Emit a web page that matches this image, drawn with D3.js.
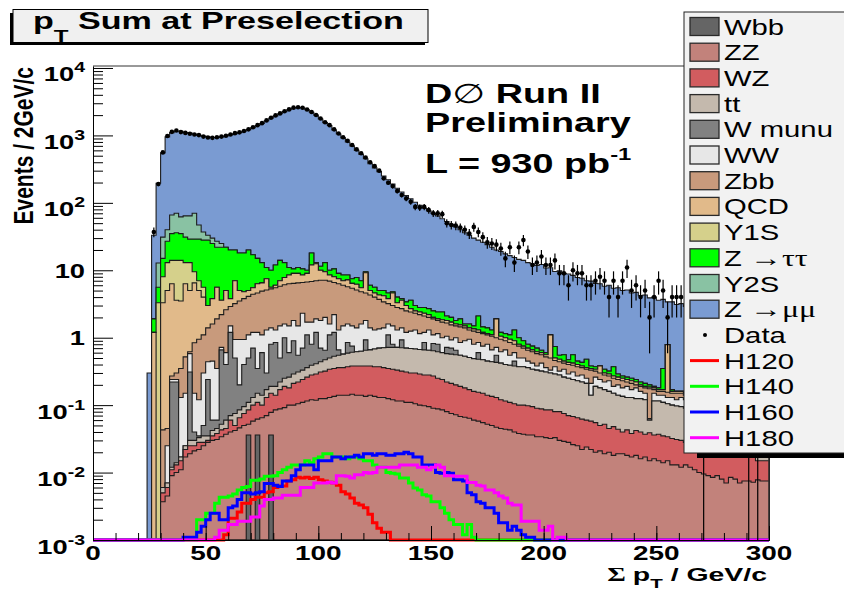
<!DOCTYPE html>
<html>
<head>
<meta charset="utf-8">
<title>pT Sum at Preselection</title>
<script src="https://cdn.jsdelivr.net/npm/d3@7"></script>
<style>
  body { margin: 0; background: #fff; }
  svg { display: block; font-family: "Liberation Sans", Arial, Helvetica, sans-serif; }
</style>
</head>
<body>
<svg id="chart" width="844" height="591"></svg>
<script>
// Sum pT histogram in 2 GeV/c bins; stored bins start at 24 GeV/c and run to 300.
const binWidth = 2;
const firstBinLow = 24;
const _ = null; // process adds nothing in this bin

// Stacked heights (events / 2 GeV/c): each array is the height
// of the stack once that process sits on top of the ones listed before it.
const stackWbb = [
/*  24 */ 0,0,0,0,0,0,0,0,0,0,
/*  44 */ 0,0,0,0,0,0,0,0,0,0,
/*  64 */ 0,0,.036,0,.036,0,0,.036,0,0,
/*  84 */ 0,0,0,0,0,0,0,0,0,0,
/* 104 */ 0,0,0,0,0,0,0,0,0,0,
/* 124 */ 0,0,0,0,0,0,0,0,0,0,
/* 144 */ 0,0,0,0,0,0,0,0,0,0,
/* 164 */ 0,0,0,0,0,0,0,0,0,0,
/* 184 */ 0,0,0,0,0,0,0,0,0,0,
/* 204 */ 0,0,0,0,0,0,0,0,0,0,
/* 224 */ 0,0,0,0,0,0,0,0,0,0,
/* 244 */ 0,0,0,0,0,0,0,0,0,0,
/* 264 */ 0,0,0,0,0,0,0,0,0,0,
/* 284 */ 0,0,0,0,0,0,0,0
];
const stackZZ = [
/*  24 */ 0,0,0,.0037,.0045,.009,.010,.011,.017,.019,
/*  44 */ .021,.022,.025,.028,.030,.031,.034,.037,.040,.042,
/*  64 */ .046,.050,.052,.058,.062,.065,.070,.078,.085,.088,
/*  84 */ .092,.10,.10,.105,.11,.115,.12,.118,.125,.125,
/* 104 */ .13,.135,.14,.14,.14,.145,.14,.14,.135,.14,
/* 124 */ .135,.13,.13,.125,.12,.115,.115,.11,.11,.105,
/* 144 */ .10,.098,.095,.09,.088,.085,.08,.075,.072,.068,
/* 164 */ .066,.064,.06,.058,.055,.052,.05,.047,.045,.044,
/* 184 */ .043,.04,.038,.037,.036,.036,.034,.034,.033,.032,
/* 204 */ .033,.03,.029,.028,.026,.025,.022,.024,.022,.020,
/* 224 */ .021,.019,.020,.018,.019,.019,.018,.017,.018,.016,
/* 244 */ .017,.015,.016,.015,.014,.015,.013,.013,.012,.013,
/* 264 */ .012,.011,.010,.0095,.009,.0085,.009,.008,.007,.0085,
/* 284 */ .008,.007,.0075,.0075,.0072,.0078,.0075,.0075
];
const stackWZ = [
/*  24 */ 0,0,0,.005,.006,.011,.013,.015,.022,.025,
/*  44 */ .025,.028,.028,.030,.035,.038,.043,.045,.06,.05,
/*  64 */ .065,.075,.085,.10,.11,.10,.13,.15,.14,.17,
/*  84 */ .19,.18,.21,.22,.24,.26,.28,.29,.31,.32,
/* 104 */ .34,.35,.36,.36,.37,.38,.38,.38,.38,.38,
/* 124 */ .37,.37,.36,.35,.34,.33,.32,.31,.30,.30,
/* 144 */ .29,.28,.28,.27,.25,.24,.22,.21,.20,.19,
/* 164 */ .18,.17,.16,.155,.15,.14,.135,.13,.12,.115,
/* 184 */ .11,.105,.10,.10,.098,.095,.09,.088,.085,.085,
/* 204 */ .08,.08,.075,.07,.068,.065,.062,.06,.058,.055,
/* 224 */ .05,.052,.045,.048,.044,.04,.043,.038,.042,.04,
/* 244 */ .037,.039,.036,.037,.035,.034,.032,.031,.030,.028,
/* 264 */ .026,.025,.024,.022,.021,.020,.020,.019,.019,.019,
/* 284 */ .018,.018,.018,.018,.017,.015,.015,.015
];
const stackTT = [
/*  24 */ 0,0,0,.006,.007,.012,.014,.017,.025,.03,
/*  44 */ .03,.033,.035,.035,.042,.045,.052,.06,.07,.075,
/*  64 */ .085,.095,.11,.13,.15,.14,.17,.19,.19,.22,
/*  84 */ .25,.26,.29,.31,.33,.36,.39,.41,.44,.47,
/* 104 */ .50,.53,.55,.57,.59,.61,.62,.63,.65,.66,
/* 124 */ .68,.70,.71,.72,.72,.72,.71,.70,.69,.68,
/* 144 */ .67,.66,.65,.64,.62,.60,.58,.57,.56,.55,
/* 164 */ .53,.51,.49,.48,.47,.45,.44,.43,.42,.40,
/* 184 */ .39,.38,.37,.37,.36,.34,.33,.32,.31,.30,
/* 204 */ .29,.28,.26,.25,.24,.23,.22,.21,.14,.19,
/* 224 */ .18,.17,.16,.15,.14,.135,.13,.13,.125,.125,
/* 244 */ .12,.06,.115,.115,.11,.105,.10,.097,.095,.09,
/* 264 */ .085,.08,.075,.07,.065,.06,.055,.05,.045,.042,
/* 284 */ .038,.035,.032,.03,.028,.025,.023,.022
];
const stackWmunu = [
/*  24 */ 0,0,0,_,_,.22,.22,_,_,.31,
/*  44 */ .04,.035,.05,.24,.06,.06,.66,.4,1.2,.5,
/*  64 */ .2,.4,.5,.7,.35,.6,.3,.8,.85,.5,
/*  84 */ 1.0,.6,.9,.55,.7,1.1,.8,1.2,.7,.65,
/* 104 */ 1.1,1.2,.66,_,.85,.75,_,_,.93,_,
/* 124 */ _,_,_,1.1,.8,_,.93,_,_,_,
/* 144 */ _,.85,_,.82,.8,_,.72,.7,.65,_,
/* 164 */ _,_,_,.6,_,_,_,.55,_,_,
/* 184 */ _,.45,_,_,_,_,_,_,_,_,
/* 204 */ _,_,_,_,_,_,_,_,_,_,
/* 224 */ _,_,_,_,_,_,_,_,_,_,
/* 244 */ _,_,_,_,_,_,_,_,_,_,
/* 264 */ _,_,_,_,_,_,_,_,_,_,
/* 284 */ _,_,_,_,_,_,_,_
];
const stackWW = [
/*  24 */ 0,0,0,_,.025,.24,.24,.13,.15,.58,
/*  44 */ .15,.12,.3,.44,.45,.35,.72,.6,1.5,.94,
/*  64 */ .94,.94,1.1,1.2,1.2,1.1,1.3,1.4,1.3,1.5,
/*  84 */ 1.6,1.5,1.8,1.5,2.3,1.7,1.7,1.9,1.8,2.0,
/* 104 */ 1.6,2.2,1.3,1.5,1.6,1.5,1.4,1.6,1.8,1.4,
/* 124 */ 1.3,1.35,1.4,1.6,1.5,1.3,1.4,1.2,1.25,1.3,
/* 144 */ 1.15,1.2,1.3,1.1,1.15,1.0,1.05,.93,1.0,.85,
/* 164 */ .9,.95,.8,.85,.75,.8,.66,.72,.62,.66,
/* 184 */ .55,.6,.5,.5,.45,.42,.38,.42,.36,.33,
/* 204 */ .37,.32,.34,.29,.31,.27,.28,.25,.21,.26,
/* 224 */ .24,.22,.23,.19,.2,.18,.19,.17,.18,.16,
/* 244 */ .15,.063,.15,.14,.14,.13,.13,.12,.13,.12,
/* 264 */ .11,.1,.095,.09,.085,.08,.075,.07,.065,.06,
/* 284 */ .055,.05,.045,.04,.038,.035,.033,.03
];
const stackZbb = [
/*  24 */ 0,0,0,.043,.045,.27,.30,.35,.52,.62,
/*  44 */ .84,.95,1.1,1.4,1.6,1.9,2.2,2.6,2.9,3.2,
/*  64 */ 3.5,3.8,4.1,4.4,4.6,4.9,5.1,5.3,5.5,5.8,
/*  84 */ 6.1,6.3,6.4,6.5,6.6,6.7,6.8,7.0,7.1,7.1,
/* 104 */ 6.9,6.6,6.3,6.0,5.7,5.4,5.1,4.8,4.6,4.3,
/* 124 */ 4.0,3.7,3.4,3.2,3.0,2.8,2.7,2.5,2.4,2.3,
/* 144 */ 2.2,2.1,2.0,1.9,1.8,1.7,1.65,1.55,1.5,1.45,
/* 164 */ 1.4,1.3,1.25,1.2,1.15,1.1,1.05,1.0,.95,.9,
/* 184 */ .85,.8,.75,.7,.65,.62,.58,.56,.52,.5,
/* 204 */ .46,.44,.42,.40,.39,.37,.36,.34,.33,.32,
/* 224 */ .30,.28,.27,.25,.24,.23,.22,.21,.20,.19,
/* 244 */ .18,.175,.17,.16,.16,.155,.15,.15,.15,.14,
/* 264 */ .135,.13,.125,.12,.115,.11,.105,.1,.095,.09,
/* 284 */ .085,.08,.075,.07,.065,.06,.055,.05
];
const stackQCD = [
/*  24 */ 0,1.2,_,3.3,5.0,6.3,3.6,3.5,6.3,5.0,
/*  44 */ 6.5,5.0,4.0,3.0,3.8,5.6,3.6,5.0,3.8,7.0,
/*  64 */ 5.0,4.8,5.0,5.5,6.3,6.5,7.5,5.6,6.0,7.0,
/*  84 */ 7.8,8.5,9.0,9.0,8.5,9.0,12,12.5,10,9.5,
/* 104 */ 8.5,8.0,7.5,7.0,7.2,6.4,6.2,5.5,9.2,5.0,
/* 124 */ 4.6,4.3,4.2,3.8,4.6,3.3,3.6,3.0,2.7,2.5,
/* 144 */ 2.4,2.3,2.2,2.0,1.9,1.85,1.8,1.7,1.6,1.55,
/* 164 */ 1.5,1.4,1.35,1.3,1.2,1.15,1.1,1.9,1.05,1.0,
/* 184 */ .95,.9,.8,.75,.7,.66,.62,.6,.56,1.1,
/* 204 */ .5,.48,.45,.43,.42,.4,.38,.36,.35,.34,
/* 224 */ .38,.3,.29,.27,.26,.25,.24,.23,.22,.2,
/* 244 */ .19,.185,.18,.17,.17,.79,.16,.16,.16,.15,
/* 264 */ .145,.14,.13,.125,.12,.115,.11,.105,.1,.095,
/* 284 */ .09,.085,.08,.075,.07,.065,.06,.055
];
const stackY1S = [
/*  24 */ 0,_,3.3,8,13,14,14,14,13,13,
/*  44 */ 9.5,7.0,5.6,_,_,_,_,_,_,_,
/*  64 */ _,_,_,_,_,_,_,_,_,_,
/*  84 */ _,_,_,_,_,_,_,_,_,_,
/* 104 */ _,_,_,_,_,_,_,_,_,_,
/* 124 */ _,_,_,_,_,_,_,_,_,_,
/* 144 */ _,_,_,_,_,_,_,_,_,_,
/* 164 */ _,_,_,_,_,_,_,_,_,_,
/* 184 */ _,_,_,_,_,_,_,_,_,_,
/* 204 */ _,_,_,_,_,_,_,_,_,_,
/* 224 */ _,_,_,_,_,_,_,_,_,_,
/* 244 */ _,_,_,_,_,_,_,_,_,_,
/* 264 */ _,_,_,_,_,_,_,_,_,_,
/* 284 */ _,_,_,_,_,_,_,_
];
const stackZtautau = [
/*  24 */ 0,1.9,5.6,15,27,35,36,35,31,29,
/*  44 */ 29,29,28,28,25,22,22,22,20,20,
/*  64 */ 18,18,20,17,15,13,11,10,12,14,
/*  84 */ 13,11,10.5,11,10.5,10,18,13,11.5,13,
/* 104 */ 10,10.5,9,8.5,8.5,7.5,7.8,7.0,9.5,6.0,
/* 124 */ 5.6,5.0,5.0,4.6,4.8,4.0,3.8,3.4,3.6,3.0,
/* 144 */ 2.8,2.8,2.7,2.5,2.4,2.4,2.1,2.0,1.8,1.9,
/* 164 */ 1.6,1.6,1.5,2.1,1.45,1.4,1.3,_,1.2,1.15,
/* 184 */ 1.1,1.3,1.0,.9,.8,.75,.7,.65,.6,_,
/* 204 */ .74,.55,.56,.47,.56,.45,.43,.48,.38,.37,
/* 224 */ _,.34,.32,.37,.29,.27,.26,.25,.24,.22,
/* 244 */ .21,.2,.19,.18,.35,_,.17,_,_,_,
/* 264 */ _,_,_,_,_,_,_,_,_,_,
/* 284 */ _,_,_,_,_,_,_,_
];
const stackY2S = [
/*  24 */ 0,_,12.8,31,40,66,70,62,64,64,
/*  44 */ 70,47,37,33,30,27,25,_,_,_,
/*  64 */ _,_,_,_,_,_,_,_,_,_,
/*  84 */ _,_,_,_,_,_,_,_,_,_,
/* 104 */ _,_,_,_,_,_,_,_,_,_,
/* 124 */ _,_,_,_,_,_,_,_,_,_,
/* 144 */ _,_,_,_,_,_,_,_,_,_,
/* 164 */ _,_,_,_,_,_,_,_,_,_,
/* 184 */ _,_,_,_,_,_,_,_,_,_,
/* 204 */ _,_,_,_,_,_,_,_,_,_,
/* 224 */ _,_,_,_,_,_,_,_,_,_,
/* 244 */ _,_,_,_,_,_,_,_,_,_,
/* 264 */ _,_,_,_,_,_,_,_,_,_,
/* 284 */ _,_,_,_,_,_,_,_
];
const stackZmumu = [
/*  24 */ .3,33,195,550,950,1100,1150,1150,1100,1080,
/*  44 */ 1050,1000,980,950,930,930,950,980,1020,1060,
/*  64 */ 1100,1150,1220,1300,1400,1500,1650,1800,1950,2100,
/*  84 */ 2250,2400,2550,2600,2550,2400,2200,2000,1750,1550,
/* 104 */ 1400,1200,1050,920,800,700,600,520,450,380,
/* 124 */ 330,290,250,220,190,165,145,128,115,102,
/* 144 */ 92,84,76,70,64,58,53,48,44,40,
/* 164 */ 36,33,30,28,26,24,22,20,19,17.5,
/* 184 */ 16.5,15.5,14.5,14,13,12.5,11.8,12.2,10.8,10.9,
/* 204 */ 9.6,9.8,9.0,8.8,8.4,7.8,7.6,7.0,6.9,6.4,
/* 224 */ 6.3,5.8,6.0,5.4,5.5,5.0,5.1,4.6,4.7,4.2,
/* 244 */ 4.3,3.9,4.0,3.6,3.7,3.4,3.4,3.1,3.2,2.9,
/* 264 */ 3.0,2.7,2.8,2.5,2.6,2.4,2.3,2.3,2.1,2.1,
/* 284 */ 2.0,1.9,1.9,1.8,1.8,1.7,1.7,1.6
];

// Observed events per bin
const dataCounts = [
/*  24 */ 0,37,190,560,980,1130,1180,1120,1090,1060,
/*  44 */ 1030,1010,960,930,920,940,960,990,1030,1080,
/*  64 */ 1110,1160,1230,1320,1420,1520,1670,1830,1980,2120,
/*  84 */ 2280,2430,2580,2620,2570,2420,2230,2010,1780,1570,
/* 104 */ 1420,1230,1070,940,830,720,620,545,470,400,
/* 124 */ 350,300,231,199,177,150,131,116,104,87,
/* 144 */ 85,87,78,70,70,68,50,47,46,43,
/* 164 */ 40,35,44,37,31,26,25,24,21,15,
/* 184 */ 22,13,22,28,19,12,13,16,12,12,
/* 204 */ 14,9,9,6,10,9,9,6,6,7,
/* 224 */ 8,7,4,7,4,7,11,5,6,4,
/* 244 */ 5,2,4,7,5,2,4,4,4,3,
/* 264 */ 2,4,2,1,3,2,3,2,2,3,
/* 284 */ 2,2,3,1,2,1,2,2
];

// Higgs signal expectations (events / 2 GeV/c)
const h120 = [
/*  24 */ 0,0,0,0,0,0,0,0,0,0,
/*  44 */ 0,0,0,0,0,0,0,.0012,.0021,.0021,
/*  64 */ .0026,.0035,.0035,.004,.0043,.0043,.005,.0052,.006,.0063,
/*  84 */ .0063,.0075,.0078,.0085,.0083,.0085,.0082,.0085,.0078,.0075,
/* 104 */ .0072,.007,.0065,.0052,.0048,.0042,.0035,.0033,.003,.0024,
/* 124 */ .0018,.0015,.0013,.0013,0,0,0,0,0,0,
/* 144 */ 0,0,0,0,0,0,0,0,0,0,
/* 164 */ 0,0,0,0,0,0,0,0,0,0,
/* 184 */ 0,0,0,0,0,0,0,0,0,0,
/* 204 */ 0,0,0,0,0,0,0,0,0,0,
/* 224 */ 0,0,0,0,0,0,0,0,0,0,
/* 244 */ 0,0,0,0,0,0,0,0,0,0,
/* 264 */ 0,0,0,0,0,0,0,0,0,0,
/* 284 */ 0,0,0,0,0,0,0,0
];
const h140 = [
/*  24 */ 0,0,0,0,0,0,0,0,0,0,
/*  44 */ 0,.002,.002,.0025,.0025,.0035,.0043,.0043,.0045,.0048,
/*  64 */ .0055,.006,.0062,.0077,.0077,.008,.0088,.0088,.009,.01,
/*  84 */ .011,.012,.013,.013,.013,.015,.014,.016,.017,.019,
/* 104 */ .019,.017,.017,.017,.016,.017,.017,.016,.015,.015,
/* 124 */ .013,.012,.012,.01,.0098,.0095,.0083,.0083,.007,.0059,
/* 144 */ .0055,.0047,.0045,.0037,.0037,.003,.0025,.002,.0017,.0017,
/* 164 */ .0012,.0017,.0011,0,0,0,0,0,0,0,
/* 184 */ 0,0,0,0,0,0,0,0,0,0,
/* 204 */ 0,0,0,0,0,0,0,0,0,0,
/* 224 */ 0,0,0,0,0,0,0,0,0,0,
/* 244 */ 0,0,0,0,0,0,0,0,0,0,
/* 264 */ 0,0,0,0,0,0,0,0,0,0,
/* 284 */ 0,0,0,0,0,0,0,0
];
const h160 = [
/*  24 */ 0,0,0,0,0,0,0,0,.0011,.0011,
/*  44 */ .0011,.0013,.0016,.002,.0025,.0025,.002,.002,.003,.0032,
/*  64 */ .004,.005,.005,.0048,.005,.0052,.0069,.0069,.0065,.0062,
/*  84 */ .0075,.0075,.009,.011,.013,.013,.013,.011,.015,.015,
/* 104 */ .015,.017,.017,.016,.017,.017,.018,.017,.019,.019,
/* 124 */ .018,.019,.019,.018,.018,.019,.019,.02,.019,.017,
/* 144 */ .017,.013,.013,.013,.01,.0098,.01,.0098,.0078,.0078,
/* 164 */ .0075,.005,.0047,.0037,.0035,.003,.003,.0025,.0018,.0018,
/* 184 */ .0014,.0016,.0014,.0012,.0011,.0011,0,0,0,0,
/* 204 */ 0,0,0,0,0,0,0,0,0,0,
/* 224 */ 0,0,0,0,0,0,0,0,0,0,
/* 244 */ 0,0,0,0,0,0,0,0,0,0,
/* 264 */ 0,0,0,0,0,0,0,0,0,0,
/* 284 */ 0,0,0,0,0,0,0,0
];
const h180 = [
/*  24 */ 0,0,0,0,0,0,0,0,0,0,
/*  44 */ 0,0,0,0,0,.0011,.0014,.0014,.0017,.0017,
/*  64 */ .0019,.0019,.0019,.0022,.0022,.0032,.004,.004,.0042,.0042,
/*  84 */ .0046,.0046,.0046,.0046,.006,.006,.006,.007,.007,.007,
/* 104 */ .0072,.007,.009,.009,.0088,.0083,.0093,.0093,.01,.0098,
/* 124 */ .01,.012,.012,.012,.012,.012,.013,.013,.013,.013,
/* 144 */ .012,.012,.011,.012,.013,.012,.009,.009,.0088,.0088,
/* 164 */ .0088,.0071,.0071,.0065,.0063,.0055,.0055,.005,.0045,.0042,
/* 184 */ .0035,.0033,.0033,.0019,.0019,.0019,.0019,.0014,.0014,.0016,
/* 204 */ 0,.0011,.0011,0,0,0,0,0,0,0,
/* 224 */ 0,0,0,0,0,0,0,0,0,0,
/* 244 */ 0,0,0,0,0,0,0,0,0,0,
/* 264 */ 0,0,0,0,0,0,0,0,0,0,
/* 284 */ 0,0,0,0,0,0,0,0
];

const yTickPowers = [-3, -2, -1, 0, 1, 2, 3, 4];
const xTickLabels = [0, 50, 100, 150, 200, 250, 300];

// legend order = stacking order, bottom first
const processes = [
  { label: ["Wbb"],           color: "#656565", stack: stackWbb },
  { label: ["ZZ"],            color: "#c2827b", stack: stackZZ },
  { label: ["WZ"],            color: "#d25c5f", stack: stackWZ },
  { label: ["tt"],            color: "#c4b9ad", stack: stackTT },
  { label: ["W munu"],        color: "#818181", stack: stackWmunu },
  { label: ["WW"],            color: "#e7e7e7", stack: stackWW },
  { label: ["Zbb"],           color: "#c89a7c", stack: stackZbb },
  { label: ["QCD"],           color: "#e1ba8a", stack: stackQCD },
  { label: ["Y1S"],           color: "#d5d08b", stack: stackY1S },
  { label: ["Z ", "\u2192\u03c4\u03c4"], color: "#00ff00", stack: stackZtautau },
  { label: ["Y2S"],           color: "#89c2a3", stack: stackY2S },
  { label: ["Z ", "\u2192\u03bc\u03bc"], color: "#7a9bd2", stack: stackZmumu }
];
const signals = [
  { label: "H120", color: "#ff0000", vals: h120 },
  { label: "H140", color: "#00ff00", vals: h140 },
  { label: "H160", color: "#0000ff", vals: h160 },
  { label: "H180", color: "#ff00ff", vals: h180 }
];

const svg = d3.select("#chart");

const x = d3.scaleLinear().domain([0, 300]).range([93, 769]);
const y = d3.scaleLog().domain([1e-3, 10700]).range([540, 66]);
const yFloor = y.domain()[0];
const yPix = v => (v != null && v > yFloor) ? y(v) : y(yFloor);

const lows = stackZmumu.map((d, i) => firstBinLow + i * binWidth);
const xEnd = lows[lows.length - 1] + binWidth;

// resolve empty bins to the level of the process underneath
let under = lows.map(() => 0);
processes.forEach(p => {
  p.top = lows.map((d, i) => p.stack[i] == null ? under[i] : p.stack[i]);
  under = p.top;
});

const plot = svg.append("g");

const area = d3.area()
  .x(d => x(d[0]))
  .y0(y(yFloor))
  .y1(d => yPix(d[1]))
  .curve(d3.curveStepAfter);

// draw the full stack first, then each lower sum in front of it
processes.slice().reverse().forEach(p => {
  const pts = p.top.map((v, i) => [lows[i], v]);
  pts.push([xEnd, p.top[p.top.length - 1]]);
  plot.append("path")
      .attr("d", area(pts))
      .attr("fill", p.color)
      .attr("stroke", "#1c1c1c")
      .attr("stroke-width", 1.1);
});

const step = d3.line()
  .x(d => x(d[0]))
  .y(d => yPix(d[1]))
  .curve(d3.curveStepAfter);

signals.forEach(s => {
  const pts = [[0, 0]].concat(s.vals.map((v, i) => [lows[i], v]));
  pts.push([xEnd, s.vals[s.vals.length - 1]]);
  plot.append("path")
      .attr("d", step(pts))
      .attr("fill", "none")
      .attr("stroke", s.color)
      .attr("stroke-width", 3);
});

const dataPts = dataCounts
  .map((n, i) => ({ x: lows[i] + binWidth / 2, n }))
  .filter(d => d.n > 0);

plot.selectAll(".err")
  .data(dataPts)
  .join("line")
    .attr("class", "err")
    .attr("x1", d => x(d.x))
    .attr("x2", d => x(d.x))
    .attr("y1", d => yPix(d.n - Math.sqrt(d.n)))
    .attr("y2", d => yPix(d.n + Math.sqrt(d.n)))
    .attr("stroke", "#000")
    .attr("stroke-width", 1.2);

plot.selectAll(".pt")
  .data(dataPts)
  .join("circle")
    .attr("class", "pt")
    .attr("cx", d => x(d.x))
    .attr("cy", d => y(d.n))
    .attr("r", 2.3)
    .attr("fill", "#000");

// frame
svg.append("path")
   .attr("d", `M${x(0)},${y.range()[1]}H${x(300)}V${y.range()[0]}`)
   .attr("fill", "none")
   .attr("stroke", "#333");

// axes, ticks drawn inwards like ROOT
const majorY = yTickPowers.map(k => Math.pow(10, k));
const minorY = [];
majorY.slice(0, -1).forEach(d => { for (let m = 2; m <= 9; m++) minorY.push(d * m); });

svg.append("g")
   .attr("transform", `translate(${x(0)},0)`)
   .call(d3.axisLeft(y).tickValues(majorY).tickSize(-20).tickSizeOuter(0).tickFormat(""));
svg.append("g")
   .attr("transform", `translate(${x(0)},0)`)
   .call(d3.axisLeft(y).tickValues(minorY).tickSize(-10).tickSizeOuter(0).tickFormat(""))
   .call(g => g.select(".domain").remove());

svg.append("g")
   .attr("transform", `translate(0,${y(yFloor)})`)
   .call(d3.axisBottom(x).tickValues(d3.range(0, 301, 10)).tickSize(-7).tickSizeOuter(0).tickFormat(""));
svg.append("g")
   .attr("transform", `translate(0,${y(yFloor)})`)
   .call(d3.axisBottom(x).tickValues(xTickLabels).tickSize(-14).tickSizeOuter(0).tickFormat(""))
   .call(g => g.select(".domain").remove());

svg.selectAll(".tick line").attr("stroke", "#000");
svg.selectAll(".domain").attr("stroke", "#000");

// text helper: ROOT output here is stretched sideways
function stretched(sx, px, py, anchor) {
  return svg.append("text")
    .attr("transform", `translate(${px},${py}) scale(${sx},1)`)
    .attr("text-anchor", anchor || "start");
}

yTickPowers.forEach(k => {
  const ty = y(Math.pow(10, k));
  if (k === 0 || k === 1) {
    stretched(1.3, 85, ty + 7.5, "end")
      .attr("font-weight", "bold").attr("font-size", 21)
      .text(k === 0 ? "1" : "10");
  } else {
    const t = stretched(1.3, 85, ty + 13.5, "end")
      .attr("font-weight", "bold").attr("font-size", 21);
    t.append("tspan").text("10");
    t.append("tspan").attr("dy", -9).attr("font-size", 15).text(k);
  }
});

xTickLabels.forEach(v => {
  stretched(1.33, x(v), 560, "middle")
    .attr("font-weight", "bold").attr("font-size", 21)
    .text(v);
});

// axis titles
const xt = stretched(1.58, 767, 580.5, "end").attr("font-weight", "bold").attr("font-size", 18);
xt.append("tspan").attr("font-family", "Liberation Serif").text("\u03a3 ");
xt.append("tspan").text("p");
xt.append("tspan").attr("dy", 7.5).attr("font-size", 13).text("T");
xt.append("tspan").attr("dy", -7.5).text(" / GeV/c");

svg.append("text")
   .attr("transform", "translate(33,67) rotate(-90) scale(1,1.35)")
   .attr("text-anchor", "end")
   .attr("font-weight", "bold")
   .attr("font-size", 21)
   .text("Events / 2GeV/c");

// title box
svg.append("rect").attr("x", 10).attr("y", 13).attr("width", 415).attr("height", 32).attr("fill", "#000");
svg.append("rect").attr("x", 13).attr("y", 9.5).attr("width", 415).attr("height", 33)
   .attr("fill", "#f0f0f0").attr("stroke", "#000");
const title = stretched(1.42, 33, 29).attr("font-weight", "bold").attr("font-size", 24);
title.append("tspan").text("p");
title.append("tspan").attr("dy", 13).attr("font-size", 17).text("T");
title.append("tspan").attr("dy", -13).text(" Sum at Preselection");

// experiment label
const d0 = stretched(1.4, 425, 103).attr("font-weight", "bold").attr("font-size", 27);
d0.append("tspan").text("D");
d0.append("tspan").attr("font-family", "DejaVu Sans").attr("font-weight", "normal").text("\u2205");
d0.append("tspan").text(" Run II");
stretched(1.4, 425, 132).attr("font-weight", "bold").attr("font-size", 27).text("Preliminary");
const lumi = stretched(1.4, 425, 173).attr("font-weight", "bold").attr("font-size", 27);
lumi.append("tspan").text("L = 930 pb");
lumi.append("tspan").attr("dy", -13).attr("font-size", 17).text("-1");

// legend
svg.append("rect").attr("x", 697).attr("y", 17).attr("width", 200).attr("height", 441).attr("fill", "#000");
svg.append("rect").attr("x", 684).attr("y", 12).attr("width", 200).attr("height", 441)
   .attr("fill", "#f2f2f2").attr("stroke", "#222");

const ly = d3.scaleLinear().domain([0, 16]).range([26.5, 437.7]);

function legendText(i, parts) {
  const t = stretched(1.33, 724, ly(i) + 8).attr("font-size", 22).attr("fill", "#000");
  t.append("tspan").text(parts[0]);
  if (parts[1]) t.append("tspan").attr("font-family", "Liberation Serif").attr("font-size", 24).text(parts[1]);
}

processes.forEach((p, i) => {
  svg.append("rect")
     .attr("x", 690).attr("y", ly(i) - 9)
     .attr("width", 29).attr("height", 18)
     .attr("fill", p.color).attr("stroke", "#2a2a2a").attr("stroke-width", 1.3);
  legendText(i, p.label);
});

svg.append("circle").attr("cx", 705).attr("cy", ly(12)).attr("r", 2).attr("fill", "#000");
legendText(12, ["Data"]);

signals.forEach((s, j) => {
  svg.append("line")
     .attr("x1", 690).attr("x2", 719)
     .attr("y1", ly(13 + j)).attr("y2", ly(13 + j))
     .attr("stroke", s.color).attr("stroke-width", 3);
  legendText(13 + j, [s.label]);
});
</script>
</body>
</html>
